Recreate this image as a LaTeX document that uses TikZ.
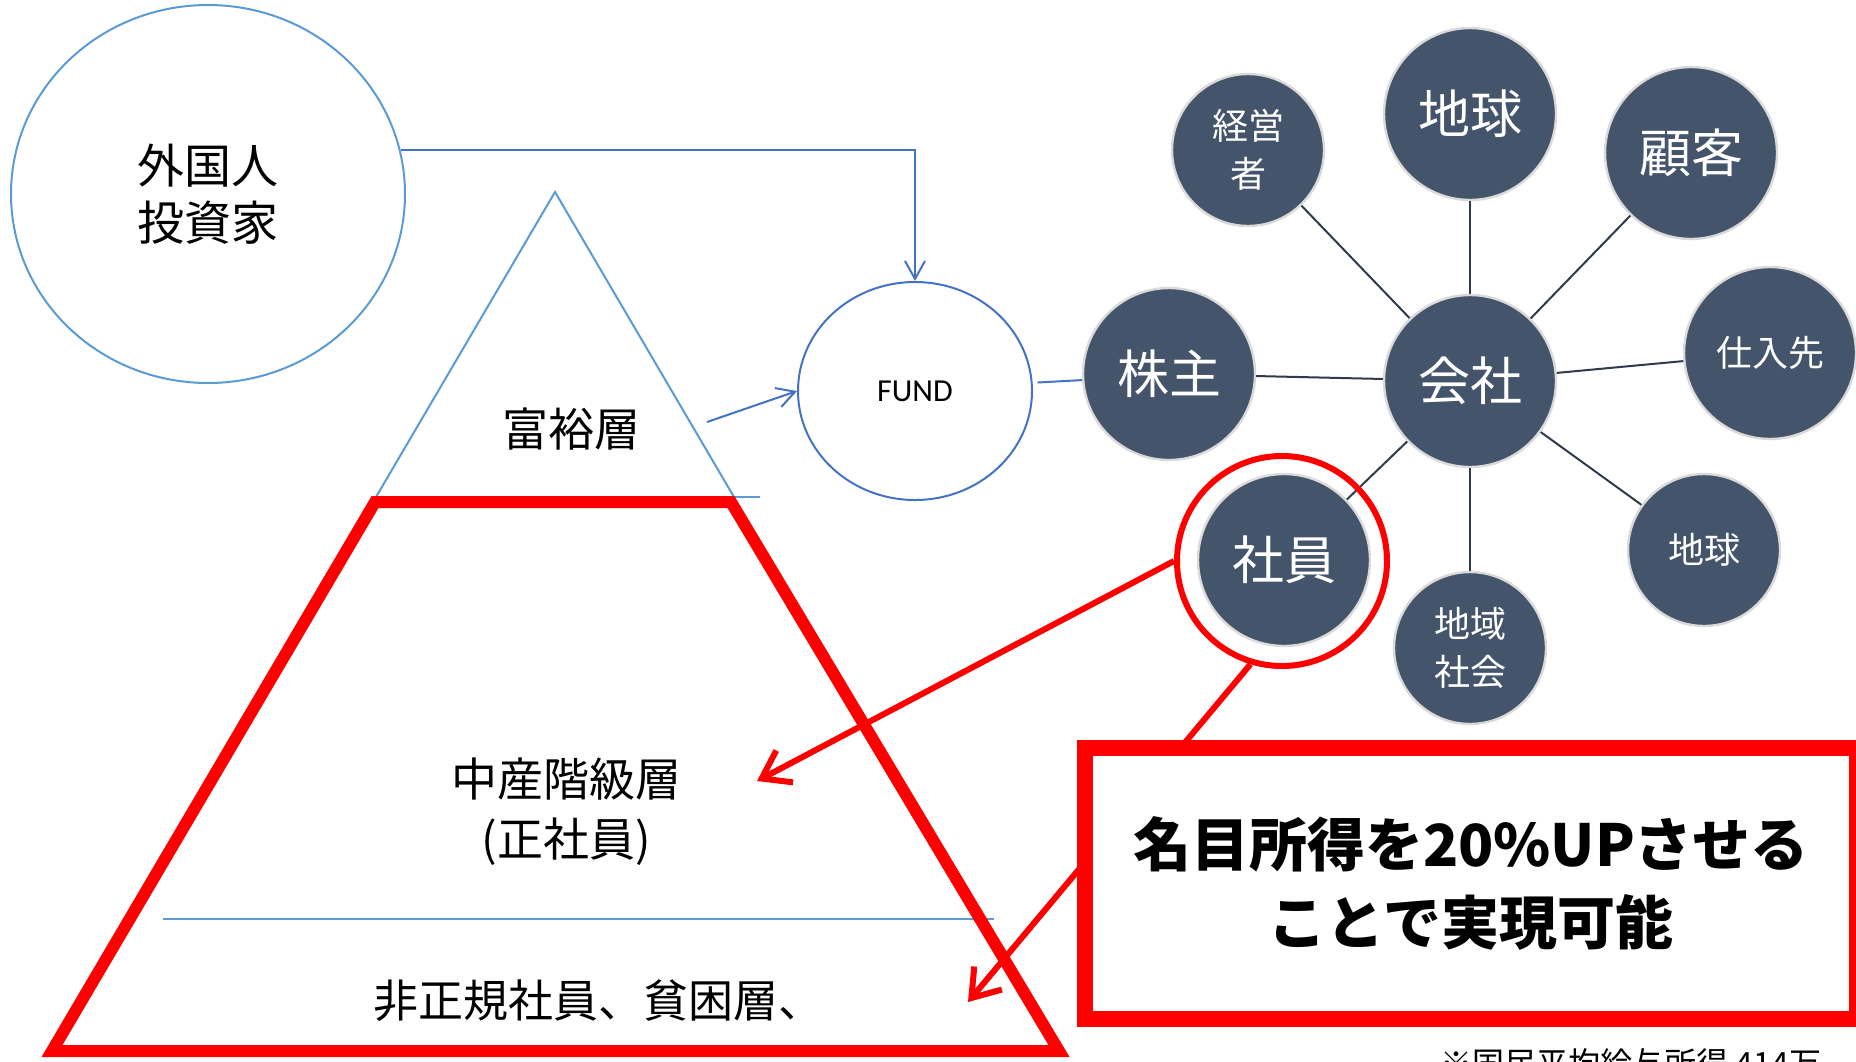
\documentclass[tikz,border=0pt]{standalone}
\usepackage{fontspec}
\setmainfont{Noto Sans CJK JP}
\newfontfamily\calib{Carlito}
\usetikzlibrary{shapes.geometric,arrows.meta,calc}
\definecolor{lblue}{HTML}{5B9BD5}
\definecolor{dblue}{HTML}{4472C4}
\definecolor{slate}{HTML}{44546A}
\definecolor{rimgray}{HTML}{DADADA}
\definecolor{linkc}{HTML}{2F3B4C}
\definecolor{redz}{HTML}{FF0000}
\begin{document}
\begin{tikzpicture}[x=0.5pt,y=-0.5pt,
  bignode/.style={circle, fill=slate, draw=rimgray, line width=1.2pt, minimum size=86pt, inner sep=0pt, text=white, font=\fontsize{26pt}{31pt}\selectfont, align=center},
  smallnode/.style={bignode, minimum size=76pt, font=\fontsize{18pt}{24pt}\selectfont},
  midtext/.style={font=\fontsize{18pt}{24pt}\selectfont},
  link/.style={draw=linkc, line width=1pt},
  blueconn/.style={draw=dblue, line width=1pt},
  bluetip/.style={-{Straight Barb[length=9pt,width=10pt]}},
  redarrow/.style={draw=redz, line width=3pt, -{Straight Barb[length=13pt,width=18pt]}},
  lyr/.style={font=\fontsize{23pt}{30pt}\selectfont, align=center, inner sep=0pt}
]
\useasboundingbox (0,0) rectangle (1856,1061);
\clip (0,0) rectangle (1856,1061);

% left ellipse and FUND
\node[ellipse, draw=lblue, line width=1pt, minimum width=197pt, minimum height=189pt, lyr, font=\fontsize{23.5pt}{28.5pt}\selectfont] (inv) at (208,194) {外国人\\投資家};
\node[ellipse, draw=dblue, line width=1pt, minimum width=117pt, minimum height=109pt, inner sep=0pt, font=\calib\fontsize{16pt}{19pt}\selectfont] (fund) at (915,391) {FUND};

% pyramid
\draw[lblue, line width=1pt] (734,497) -- (555,192) -- (376,497);
\draw[lblue, line width=1.2pt] (376,497) -- (760,497);
\draw[lblue, line width=1.4pt] (163,919) -- (994,919);
\draw[redz, line width=6pt] (375,502) -- (731,502) -- (1059,1051) -- (52,1051) -- cycle;

\node[lyr] (rich) at (571,429) {富裕層};
\node[lyr] (middle) at (566,812) {中産階級層\\(正社員)};
\node[lyr, font=\fontsize{22.5pt}{28pt}\selectfont] (poor) at (598,1001) {非正規社員、貧困層、};

\coordinate (richout) at (707,422);
\coordinate (tipmid) at (757,781);
\coordinate (tippoor) at (968,1002);

% blue connectors
\draw[blueconn, bluetip] (inv.13) -| (fund.north);
\draw[blueconn, bluetip] (richout) -- (fund.west);

% network
\node[smallnode] (keiei) at (1248,150) {経営\\者};
\node[bignode] (chikyuA) at (1470,114) {地球};
\node[bignode] (kokyaku) at (1691,153) {顧客};
\node[bignode] (kabu) at (1169,374) {株主};
\node[bignode] (kaisha) at (1470,381) {会社};
\node[bignode, font=\fontsize{18pt}{24pt}\selectfont] (shiire) at (1770,353) {仕入先};
\node[bignode] (shain) at (1284,560) {社員};
\node[smallnode] (chikyuB) at (1704,550) {地球};
\node[smallnode] (chiiki) at (1470,648) {地域\\社会};

\draw[link] (kaisha) -- (keiei);
\draw[link] (kaisha) -- (chikyuA);
\draw[link] (kaisha) -- (kokyaku);
\draw[link] (kaisha) -- (kabu);
\draw[link] (kaisha) -- (shiire);
\draw[link] (kaisha) -- (shain);
\draw[link] (kaisha) -- (chikyuB);
\draw[link] (kaisha) -- (chiiki);
\draw[blueconn, shorten <=2.5pt] (fund.4) -- (kabu.184);

\node[circle, draw=redz, line width=3pt, minimum size=105pt, inner sep=0pt] (ring) at (1282,561) {};

% red arrows
\draw[redarrow] (ring.west) -- (tipmid);
\draw[redarrow] (ring.253) -- (tippoor);

% red box
\node[draw=redz, fill=white, line width=8pt, minimum width=386pt, minimum height=135.5pt, inner sep=0pt, align=center, font=\bfseries\fontsize{29pt}{39pt}\selectfont] (box) at (1471,883) {名目所得を20\%UPさせる\\ことで実現可能};

\node[inner sep=0pt, font=\fontsize{16pt}{16pt}\selectfont] (note) at (1631,1063) {※国民平均給与所得 414万};
\end{tikzpicture}
\end{document}
